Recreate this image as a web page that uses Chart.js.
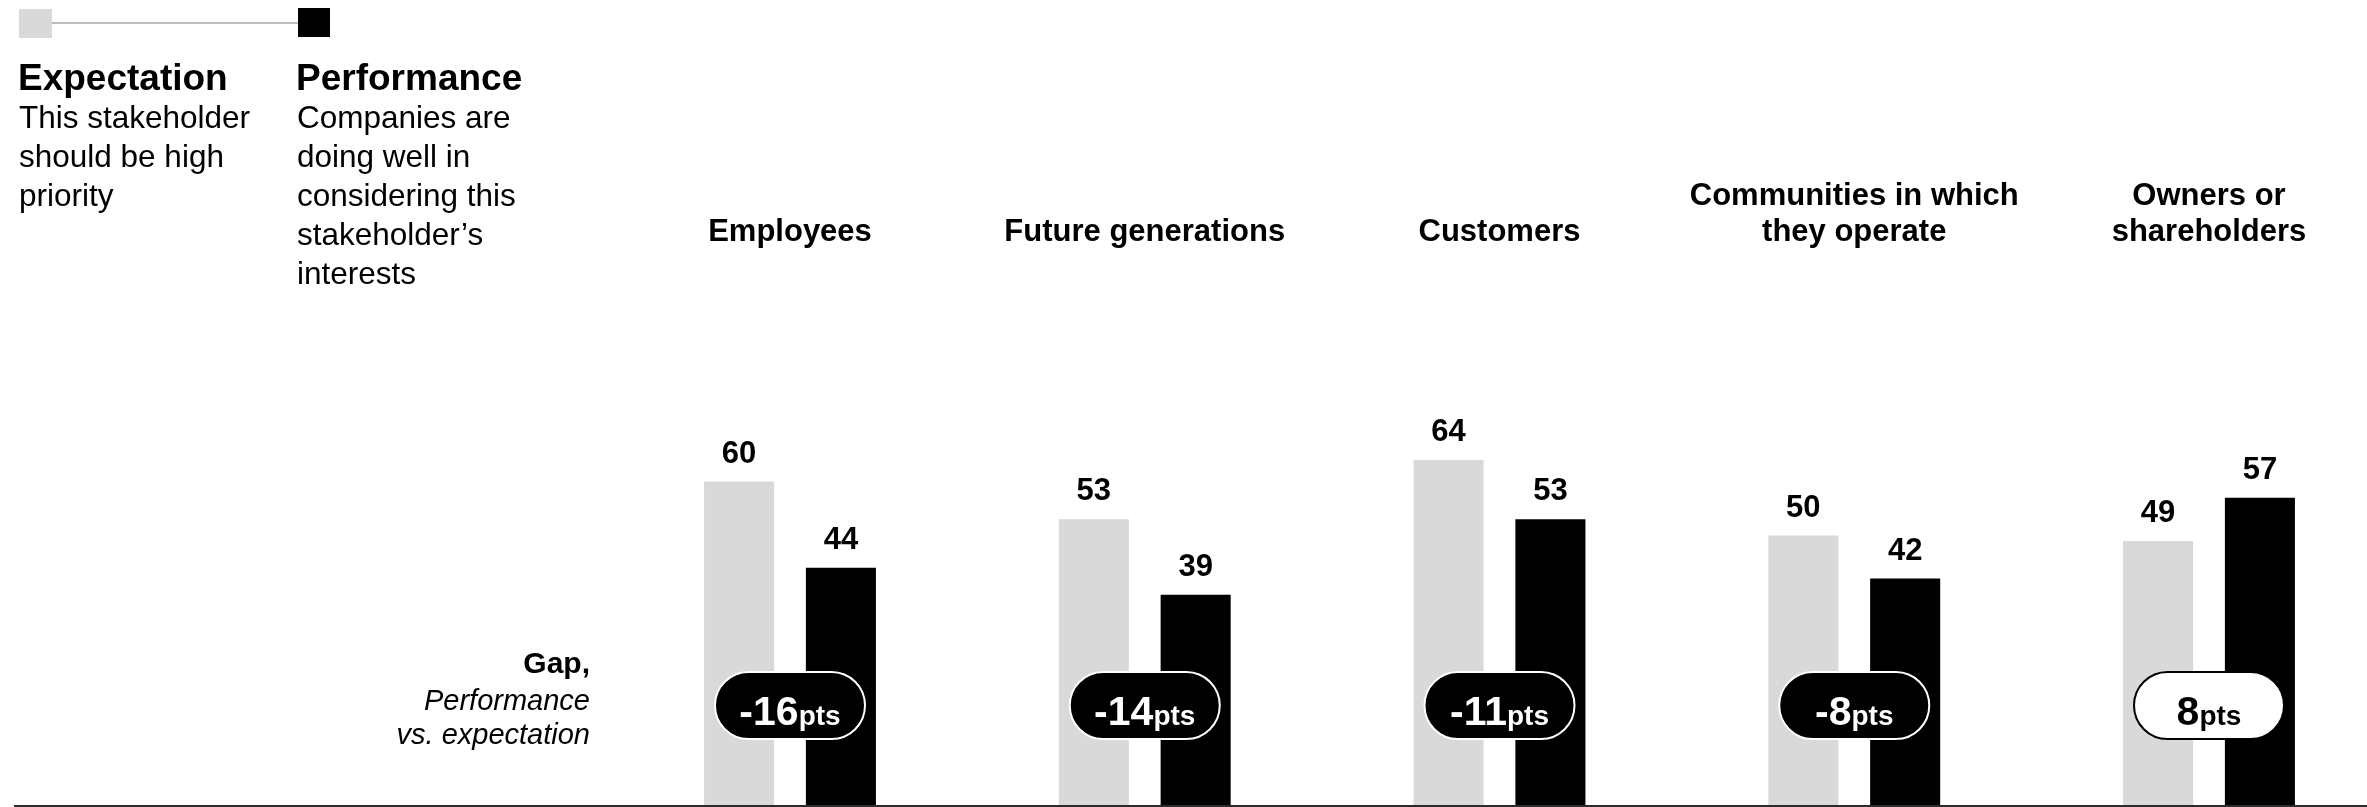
<!DOCTYPE html>
<html>
<head>
<meta charset="utf-8">
<script src="https://cdn.jsdelivr.net/npm/chart.js@4.4.1/dist/chart.umd.min.js"></script>
<style>
  html, body { margin: 0; padding: 0; background: #ffffff; overflow: hidden; }
  #wrap { position: absolute; left: 0; top: 0; width: 2367px; height: 807px; }
  #chart { position: absolute; left: 0; top: 0; }
  .t { position: absolute; white-space: nowrap; color: #000; font-family: "Liberation Sans", Arial, Helvetica, sans-serif; }
  .sw { position: absolute; }
</style>
</head>
<body>
<div id="wrap">
  <canvas id="chart" width="2367" height="807"></canvas>
</div>
<script>
// ---------- DATA ----------
const categories = [
  "Employees",
  "Future generations",
  "Customers",
  ["Communities in which", "they operate"],
  ["Owners or", "shareholders"]
];
const expectationValues = [60, 53, 64, 50, 49];
const performanceValues = [44, 39, 53, 42, 57];
const gapValues = [-16, -14, -11, -8, 8];
const gapUnit = "pts";

const seriesNames = ["Expectation", "Performance"];
const seriesDescriptions = [
  ["This stakeholder", "should be high", "priority"],
  ["Companies are", "doing well in", "considering this", "stakeholder\u2019s", "interests"]
];
const gapCaption = ["Gap,", "Performance", "vs. expectation"];

// ---------- STYLE ----------
const FONT = '"Liberation Sans", Arial, Helvetica, sans-serif';
const LIGHT = '#d9d9d9';
const DARK = '#000000';
const W = 2367, H = 807;

// ---------- HTML text (legend + caption) ----------
const wrap = document.getElementById('wrap');
function addText(txt, x, baseline, size, weight, style, align) {
  const d = document.createElement('div');
  d.className = 't';
  d.textContent = txt;
  d.style.fontSize = size + 'px';
  d.style.fontWeight = weight;
  d.style.fontStyle = style;
  d.style.lineHeight = size + 'px';
  d.style.top = (baseline - 0.8465 * size) + 'px';
  if (align === 'right') { d.style.right = (W - x) + 'px'; d.style.textAlign = 'right'; }
  else d.style.left = x + 'px';
  wrap.appendChild(d);
}
function addBox(x, y, w, h, color) {
  const d = document.createElement('div');
  d.className = 'sw';
  d.style.left = x + 'px'; d.style.top = y + 'px';
  d.style.width = w + 'px'; d.style.height = h + 'px';
  d.style.background = color;
  wrap.appendChild(d);
}
// legend swatches and connector
addBox(52, 21.5, 246, 2, '#b9bfbe');
addBox(19, 9, 33, 29, LIGHT);
addBox(298, 8, 32, 29, DARK);
// legend texts
const legendX = [18, 296];
seriesNames.forEach((n, i) => {
  addText(n, legendX[i], 90, 37, 'bold', 'normal');
  seriesDescriptions[i].forEach((line, j) => {
    addText(line, legendX[i] + 1, 129 + j * 39, 31.5, 'normal', 'normal');
  });
});
// gap caption
addText(gapCaption[0], 590, 673, 30, 'bold', 'normal', 'right');
addText(gapCaption[1], 590, 711, 29, 'normal', 'italic', 'right');
addText(gapCaption[2], 590, 745, 29, 'normal', 'italic', 'right');

// ---------- Plugins ----------
const valueLabels = {
  id: 'valueLabels',
  afterDatasetsDraw(chart) {
    const ctx = chart.ctx;
    ctx.save();
    ctx.font = 'bold 31px ' + FONT;
    ctx.fillStyle = '#000';
    ctx.textAlign = 'center';
    ctx.textBaseline = 'alphabetic';
    chart.data.datasets.forEach((ds, di) => {
      const meta = chart.getDatasetMeta(di);
      meta.data.forEach((el, i) => {
        ctx.fillText(String(ds.data[i]), el.x, el.y - 19);
      });
    });
    // baseline rule
    ctx.fillStyle = '#2b2b2b';
    ctx.fillRect(14, chart.chartArea.bottom, W - 14, 2);
    ctx.restore();
  }
};

const gapPills = {
  id: 'gapPills',
  afterDatasetsDraw(chart) {
    const ctx = chart.ctx;
    const xs = chart.scales.x;
    const pw = 150, ph = 67, cy = 705.5;
    ctx.save();
    gapValues.forEach((g, i) => {
      const cx = xs.getPixelForValue(i);
      const x0 = cx - pw / 2, y0 = cy - ph / 2, r = ph / 2;
      ctx.beginPath();
      ctx.moveTo(x0 + r, y0);
      ctx.lineTo(x0 + pw - r, y0);
      ctx.arc(x0 + pw - r, cy, r, -Math.PI / 2, Math.PI / 2);
      ctx.lineTo(x0 + r, y0 + ph);
      ctx.arc(x0 + r, cy, r, Math.PI / 2, Math.PI * 1.5);
      ctx.closePath();
      const neg = g < 0;
      ctx.fillStyle = neg ? '#000' : '#fff';
      ctx.fill();
      ctx.lineWidth = 2;
      ctx.strokeStyle = neg ? '#fff' : '#000';
      ctx.stroke();
      // text
      const big = String(g);
      ctx.font = 'bold 41px ' + FONT;
      const wb = ctx.measureText(big).width;
      ctx.font = 'bold 28px ' + FONT;
      const ws = ctx.measureText(gapUnit).width;
      const start = cx - (wb + ws) / 2;
      ctx.fillStyle = neg ? '#fff' : '#000';
      ctx.textAlign = 'left';
      ctx.textBaseline = 'alphabetic';
      ctx.font = 'bold 41px ' + FONT;
      ctx.fillText(big, start, 725);
      ctx.font = 'bold 28px ' + FONT;
      ctx.fillText(gapUnit, start + wb, 725);
    });
    ctx.restore();
  }
};

// ---------- Chart ----------
new Chart(document.getElementById('chart'), {
  type: 'bar',
  data: {
    labels: categories,
    datasets: [
      { label: seriesNames[0], data: expectationValues, backgroundColor: LIGHT, borderWidth: 0, clip: false },
      { label: seriesNames[1], data: performanceValues, backgroundColor: DARK, borderWidth: 0, clip: false }
    ]
  },
  options: {
    responsive: false,
    devicePixelRatio: 1,
    animation: false,
    events: [],
    categoryPercentage: 0.574,
    barPercentage: 0.688,
    layout: { padding: { left: 790, right: 158, top: 0, bottom: 2 } },
    plugins: { legend: { display: false }, tooltip: { enabled: false } },
    scales: {
      x: {
        position: 'top',
        offset: false,
        grid: { display: false, drawTicks: false },
        border: { display: false },
        afterFit(axis) { axis.height = 266; },
        ticks: {
          autoSkip: false,
          maxRotation: 0,
          minRotation: 0,
          padding: 16,
          color: '#000',
          font: { family: FONT, size: 31, weight: 'bold', lineHeight: 1.16 }
        }
      },
      y: {
        display: false,
        min: 0,
        max: 100
      }
    }
  },
  plugins: [valueLabels, gapPills]
});
</script>
</body>
</html>
